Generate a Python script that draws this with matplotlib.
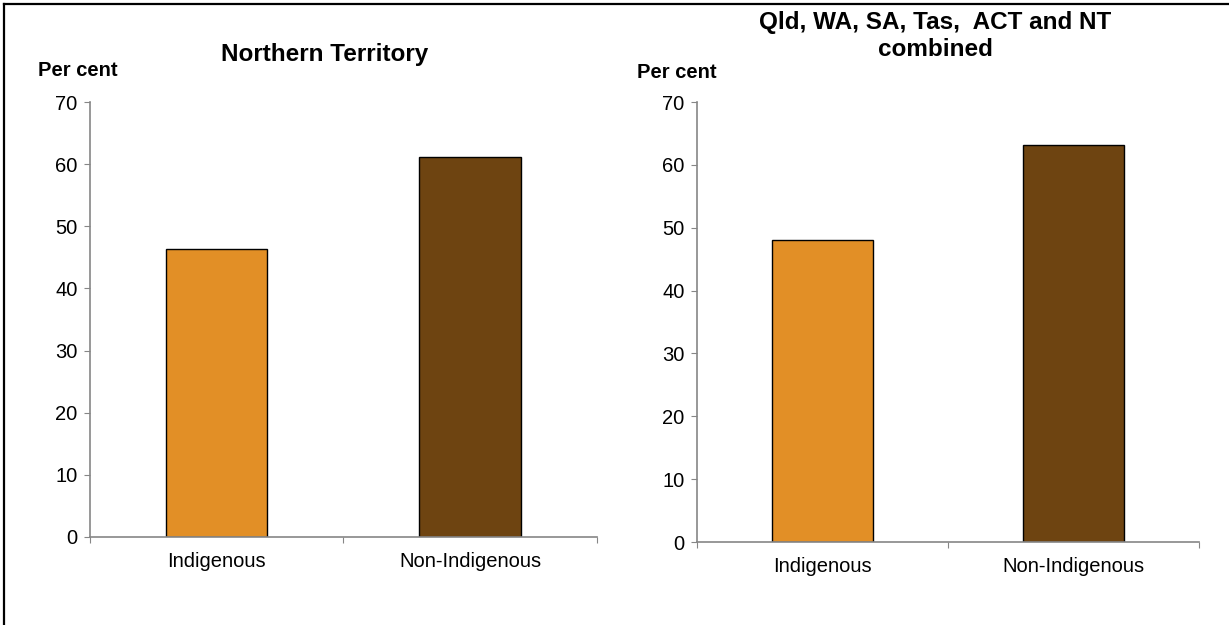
import matplotlib
matplotlib.use('Agg')
import matplotlib.pyplot as plt
from matplotlib.lines import Line2D

plt.rcParams['font.family'] = ['Liberation Sans', 'DejaVu Sans']

categories = ['Indigenous', 'Non-Indigenous']
nt_values = [46.3, 61.2]
combined_values = [48.1, 63.1]
bar_colors = ['#E28F26', '#6E4411']
yticks = [0, 10, 20, 30, 40, 50, 60, 70]

fig = plt.figure(figsize=(12.29, 6.25), dpi=100)

def draw_panel(rect, values):
    ax = fig.add_axes(rect)
    x = list(range(len(categories)))
    ax.bar(x, values, width=0.4, color=bar_colors, edgecolor='black', linewidth=1.0)
    ax.set_xlim(-0.5, len(categories) - 0.5)
    ax.set_ylim(0, 70)
    ax.set_yticks(yticks)
    ax.set_xticks([-0.5, 0.5, 1.5])
    ax.set_xticklabels([])
    ax.set_xticks(x, minor=True)
    ax.set_xticklabels(categories, minor=True)
    ax.tick_params(axis='x', which='minor', length=0, pad=10.5, labelsize=14.5)
    ax.tick_params(axis='x', which='major', length=4, color='#868686', direction='out')
    ax.tick_params(axis='y', length=4, color='#868686', pad=5, labelsize=14.5)
    for s in ['top', 'right']:
        ax.spines[s].set_visible(False)
    for s in ['left', 'bottom']:
        ax.spines[s].set_color('#868686')
        ax.spines[s].set_linewidth(1.2)
    return ax

draw_panel([0.0732, 0.1408, 0.4125, 0.696], nt_values)
draw_panel([0.5671, 0.1328, 0.4085, 0.704], combined_values)

fig.text(325 / 1229, 1 - 55 / 625, 'Northern Territory', ha='center', va='center',
         fontsize=17.5, fontweight='bold')
fig.text(935 / 1229, 1 - 36 / 625, 'Qld, WA, SA, Tas,  ACT and NT\ncombined', ha='center',
         va='center', fontsize=17.5, fontweight='bold', linespacing=1.22)
fig.text(78 / 1229, 1 - 70 / 625, 'Per cent', ha='center', va='center', fontsize=14.5,
         fontweight='bold')
fig.text(677 / 1229, 1 - 73 / 625, 'Per cent', ha='center', va='center', fontsize=14.5,
         fontweight='bold')

# border lines (left and top)
fig.add_artist(Line2D([4 / 1229, 4 / 1229], [0, 1 - 4 / 625], color='black', linewidth=1.6,
                      transform=fig.transFigure))
fig.add_artist(Line2D([4 / 1229, 1], [1 - 4 / 625, 1 - 4 / 625], color='black', linewidth=1.6,
                      transform=fig.transFigure))

fig.savefig('out.png', dpi=100)
